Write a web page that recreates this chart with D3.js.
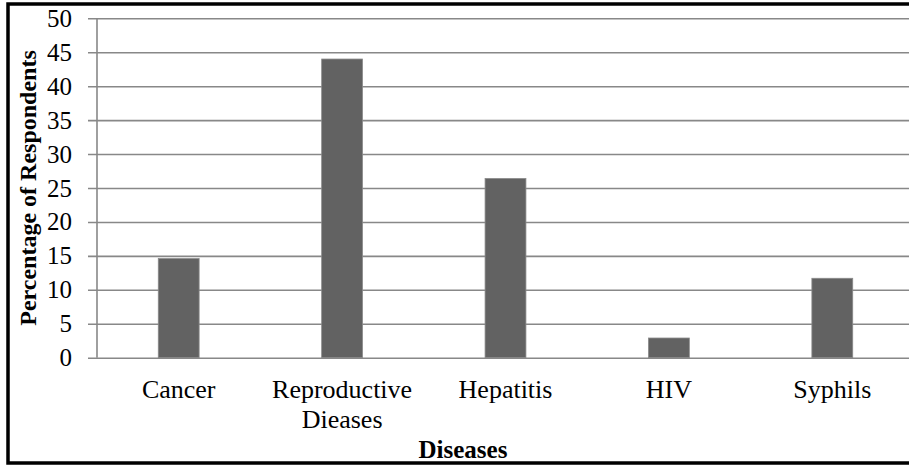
<!DOCTYPE html>
<html>
<head>
<meta charset="utf-8">
<script src="https://cdn.jsdelivr.net/npm/d3@7/dist/d3.min.js"></script>
<style>
  html, body { margin: 0; padding: 0; background: #fff; }
  svg { display: block; }
</style>
</head>
<body>
<svg id="chart" width="909" height="466"></svg>
<script>
// Share of respondents naming each disease
const categories = ["Cancer", "Reproductive\nDieases", "Hepatitis", "HIV", "Syphils"];
const percentages = [14.6, 44.0, 26.4, 2.9, 11.7];
const yTicks = [0, 5, 10, 15, 20, 25, 30, 35, 40, 45, 50];
const xTitle = "Diseases";
const yTitle = "Percentage of Respondents";

const FONT = "'Times New Roman', 'Liberation Serif', Times, serif";

const svg = d3.select("#chart");
const W = 909, H = 466;

// Plot frame
const plot = { left: 97, right: 914, top: 18.3, bottom: 357.7 };

const x = d3.scaleBand()
  .domain(categories)
  .range([plot.left, plot.right])
  .padding(0);

const y = d3.scaleLinear()
  .domain([0, 50])
  .range([plot.bottom, plot.top]);

const barWidth = x.bandwidth() * 0.25;

// Outer frame of the figure
svg.append("rect")
  .attr("x", 8).attr("y", 4)
  .attr("width", W + 10).attr("height", 459)
  .attr("fill", "none")
  .attr("stroke", "#000")
  .attr("stroke-width", 3.5);

// Horizontal gridlines with outward tick marks
const yAxis = d3.axisLeft(y)
  .tickValues(yTicks)
  .tickSize(-(plot.right - plot.left))
  .tickSizeOuter(0)
  .tickFormat(d3.format("d"));

const gy = svg.append("g")
  .attr("transform", `translate(${plot.left},0)`)
  .call(yAxis)
  .attr("font-family", null)
  .attr("font-size", null);
gy.select(".domain").remove();
gy.selectAll(".tick line")
  .attr("x1", -9)
  .attr("stroke", "#888")
  .attr("stroke-width", 1.6);
gy.selectAll(".tick text")
  .style("font-family", FONT)
  .style("font-size", "25px")
  .attr("fill", "#000")
  .attr("x", -25);

// Vertical axis line
svg.append("line")
  .attr("x1", plot.left).attr("x2", plot.left)
  .attr("y1", plot.top).attr("y2", plot.bottom)
  .attr("stroke", "#888")
  .attr("stroke-width", 1.6);

// Bars
svg.append("g").selectAll("rect")
  .data(categories)
  .join("rect")
  .attr("x", d => x(d) + (x.bandwidth() - barWidth) / 2)
  .attr("y", (d, i) => y(percentages[i]))
  .attr("width", barWidth)
  .attr("height", (d, i) => y(0) - y(percentages[i]))
  .attr("fill", "#626262")
  .attr("stroke", "#8a8a8a")
  .attr("stroke-width", 0.8);

// Category labels (multi-line)
const labels = svg.append("g").selectAll("text")
  .data(categories)
  .join("text")
  .attr("text-anchor", "middle")
  .style("font-family", FONT)
  .style("font-size", "26px")
  .attr("fill", "#000")
  .attr("x", d => x(d) + x.bandwidth() / 2)
  .attr("y", 398);
labels.each(function(d) {
  const t = d3.select(this);
  d.split("\n").forEach((line, i) => {
    t.append("tspan")
      .attr("x", x(d) + x.bandwidth() / 2)
      .attr("dy", i === 0 ? 0 : 30)
      .text(line);
  });
});

// Axis titles
svg.append("text")
  .attr("text-anchor", "middle")
  .style("font-family", FONT)
  .style("font-size", "25px")
  .style("font-weight", "bold")
  .attr("x", 463)
  .attr("y", 458)
  .text(xTitle);

svg.append("text")
  .attr("text-anchor", "middle")
  .style("font-family", FONT)
  .style("font-size", "24px")
  .style("font-weight", "bold")
  .attr("transform", `translate(36,${(plot.top + plot.bottom) / 2}) rotate(-90)`)
  .text(yTitle);
</script>
</body>
</html>
